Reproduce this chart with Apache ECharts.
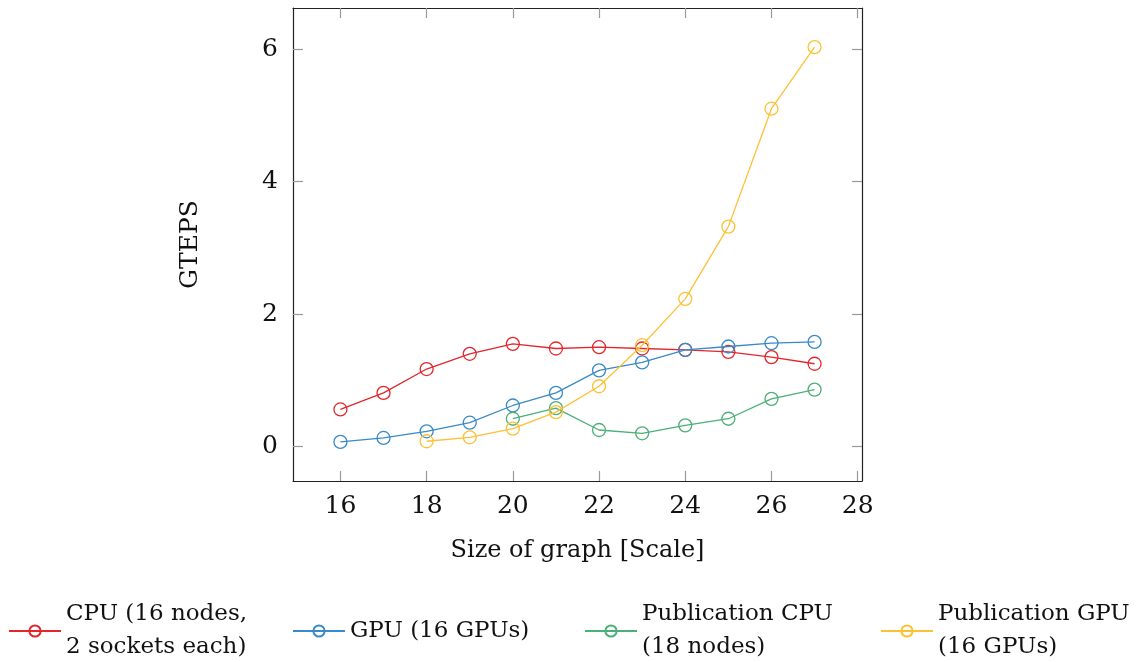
<!DOCTYPE html>
<html>
<head>
<meta charset="utf-8">
<script src="https://cdn.jsdelivr.net/npm/echarts@6/dist/echarts.min.js"></script>
<style>
  html, body { margin: 0; padding: 0; background: #fff; }
  #chart { width: 1146px; height: 662px; }
</style>
</head>
<body>
<div id="chart"></div>
<script>
// graph scale (x axis)
const scales = [16, 17, 18, 19, 20, 21, 22, 23, 24, 25, 26, 27];
const pubScales = [18, 19, 20, 21, 22, 23, 24, 25, 26, 27];
const pubCpuScales = [20, 21, 22, 23, 24, 25, 26, 27];

// GTEPS values
const cpuValues = [0.56, 0.81, 1.17, 1.40, 1.55, 1.48, 1.50, 1.48, 1.46, 1.43, 1.35, 1.25];
const gpuValues = [0.07, 0.13, 0.23, 0.36, 0.62, 0.81, 1.15, 1.27, 1.46, 1.51, 1.56, 1.58];
const pubCpuValues = [0.42, 0.58, 0.25, 0.20, 0.32, 0.42, 0.72, 0.86];
const pubGpuValues = [0.08, 0.14, 0.27, 0.52, 0.91, 1.53, 2.23, 3.32, 5.10, 6.03];

const xTicks = [16, 18, 20, 22, 24, 26, 28];
const yTicks = [0, 2, 4, 6];

const seriesNames = ['CPU (16 nodes,\n2 sockets each)', 'GPU (16 GPUs)', 'Publication CPU\n(18 nodes)', 'Publication GPU\n(16 GPUs)'];
const colors = ['#e3262b', '#3a8ac8', '#4caf78', '#fcc135'];

const zip = (xs, ys) => xs.map((x, i) => [x, ys[i]]);
const seriesData = [zip(scales, cpuValues), zip(scales, gpuValues), zip(pubCpuScales, pubCpuValues), zip(pubScales, pubGpuValues)];

const font = "'DejaVu Serif', 'Liberation Serif', serif";

const chart = echarts.init(document.getElementById('chart'));

const baseX = {
  type: 'value',
  min: 14.9,
  max: 28.1,
  splitLine: { show: false },
  axisLine: { show: true, onZero: false, lineStyle: { color: '#222', width: 1.2 } },
  axisTick: { show: true, inside: true, length: 10, customValues: xTicks, lineStyle: { color: '#999', width: 1.2 } },
};
const baseY = {
  type: 'value',
  min: -0.52,
  max: 6.62,
  splitLine: { show: false },
  axisLine: { show: true, onZero: false, lineStyle: { color: '#222', width: 1.2 } },
  axisTick: { show: true, inside: true, length: 10, customValues: yTicks, lineStyle: { color: '#999', width: 1.2 } },
};

// legend entries placed one by one, icons centred on y = 631
const legendLefts = [3, 287, 579, 875];
const lineH = 33;

const option = {
  animation: false,
  grid: { left: 293, right: 284, top: 8, bottom: 181, containLabel: false },
  legend: seriesNames.map((name, i) => {
    const lines = name.split('\n').length;
    return {
      data: [name],
      left: legendLefts[i],
      top: 631 - (lines * lineH) / 2 - 5,
      itemWidth: 52,
      itemHeight: 14,
      itemGap: 0,
      textStyle: { fontFamily: font, fontSize: 23, color: '#111', lineHeight: lineH },
    };
  }),
  xAxis: [
    Object.assign({}, baseX, {
      position: 'bottom',
      name: 'Size of graph [Scale]',
      nameLocation: 'middle',
      nameGap: 58,
      nameTextStyle: { fontFamily: font, fontSize: 24, color: '#111' },
      axisLabel: { customValues: xTicks, margin: 13, fontFamily: font, fontSize: 25, color: '#111' },
    }),
    Object.assign({}, baseX, { position: 'top', axisLabel: { show: false } }),
  ],
  yAxis: [
    Object.assign({}, baseY, {
      position: 'left',
      name: 'GTEPS',
      nameLocation: 'middle',
      nameGap: 90,
      nameTextStyle: { fontFamily: font, fontSize: 25, color: '#111' },
      axisLabel: { customValues: yTicks, margin: 15, fontFamily: font, fontSize: 25, color: '#111' },
    }),
    Object.assign({}, baseY, { position: 'right', axisLabel: { show: false } }),
  ],
  series: seriesNames.map((name, i) => ({
    name: name,
    type: 'line',
    data: seriesData[i],
    symbol: 'circle',
    symbolSize: 13,
    lineStyle: { color: colors[i], width: 1.3 },
    itemStyle: { color: 'rgba(255,255,255,0)', borderColor: colors[i], borderWidth: 1.3 },
    emphasis: { disabled: true },
    z: 2 + i,
  })),
};

chart.setOption(option);
</script>
</body>
</html>
